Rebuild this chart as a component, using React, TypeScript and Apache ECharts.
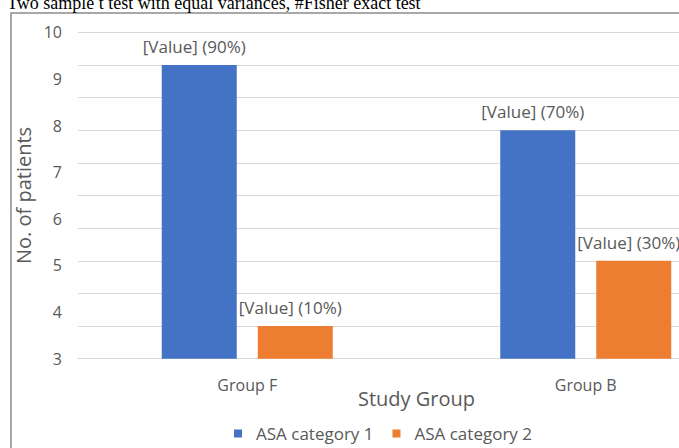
import React, { useEffect, useRef } from "react";
import * as echarts from "echarts";

const categories = ["Group F", "Group B"];
const seriesNames = ["ASA category 1", "ASA category 2"];
const asa1 = [9, 7];
const asa2 = [1, 3];
const asa1Pct = ["90%", "70%"];
const asa2Pct = ["10%", "30%"];
const tickLabelMin = 3;
const tickLabelMax = 10;
const titleText = "Two sample t test with equal variances, #Fisher exact test";

const FONT = "'Open Sans', 'Noto Sans', sans-serif";
const TXT = "#595959";

export default function App() {
  const ref = useRef<HTMLDivElement>(null);
  useEffect(() => {
    if (!ref.current) return;
    const chart = echarts.init(ref.current, undefined, { renderer: "svg" });
    const mkLabel = (pcts: string[]) => ({
      show: true,
      position: "top",
      distance: 10,
      offset: [-5, 0],
      color: TXT,
      fontFamily: FONT,
      fontSize: 17,
      formatter: (p: any) => `[Value] (${pcts[p.dataIndex]})`,
    });
    chart.setOption({
      animation: false,
      textStyle: { fontFamily: FONT },
      graphic: [
        {
          type: "rect",
          shape: { x: 11, y: 13, width: 800, height: 600 },
          style: { fill: "none", stroke: "#8c8c8c", lineWidth: 1.5 },
          silent: true,
        },
        {
          type: "text",
          x: 7,
          y: -6,
          style: {
            text: titleText,
            fontFamily: "'Liberation Serif', 'Times New Roman', serif",
            fontSize: 18,
            fill: "#000",
          },
        },
      ],
      grid: {
        left: 78,
        width: 677,
        top: 32.3,
        height: 326.4,
        containLabel: false,
        outerBoundsMode: "none",
      },
      legend: {
        data: seriesNames,
        bottom: 1,
        left: 229,
        itemWidth: 8,
        itemHeight: 8,
        itemGap: 19,
        icon: "rect",
        textStyle: { color: TXT, fontFamily: FONT, fontSize: 17, padding: [0, 0, 0, 9] },
      },
      xAxis: {
        type: "category",
        data: categories,
        name: "Study Group",
        nameLocation: "middle",
        nameGap: 30,
        nameMoveOverlap: false,
        nameTextStyle: { color: TXT, fontFamily: FONT, fontSize: 20 },
        axisLine: { lineStyle: { color: "#D9D9D9" } },
        axisTick: { show: false },
        axisLabel: { color: TXT, fontFamily: FONT, fontSize: 16, margin: 18 },
      },
      yAxis: [
        {
          type: "value",
          min: 0,
          max: 10,
          interval: 1,
          axisLabel: { show: false },
          axisLine: { show: false },
          axisTick: { show: false },
          splitLine: { lineStyle: { color: "#D9D9D9" } },
        },
        {
          type: "value",
          position: "left",
          min: tickLabelMin,
          max: tickLabelMax,
          interval: 1,
          name: "No. of patients",
          nameLocation: "middle",
          nameGap: 45,
          nameMoveOverlap: false,
          nameTextStyle: { color: TXT, fontFamily: FONT, fontSize: 20 },
          axisLabel: { color: TXT, fontFamily: FONT, fontSize: 16, margin: 16 },
          axisLine: { show: false },
          axisTick: { show: false },
          splitLine: { show: false },
        },
      ],
      series: [
        {
          name: seriesNames[0],
          type: "bar",
          yAxisIndex: 0,
          data: asa1,
          barWidth: 75,
          barGap: "28%",
          itemStyle: { color: "#4472C4" },
          label: mkLabel(asa1Pct),
        },
        {
          name: seriesNames[1],
          type: "bar",
          yAxisIndex: 0,
          data: asa2,
          barWidth: 75,
          barGap: "28%",
          itemStyle: { color: "#ED7D31" },
          label: mkLabel(asa2Pct),
        },
      ],
    });
    return () => chart.dispose();
  }, []);
  return (
    <div
      ref={ref}
      style={{ position: "fixed", left: 0, top: 0, width: 679, height: 448, background: "#fff" }}
    />
  );
}
